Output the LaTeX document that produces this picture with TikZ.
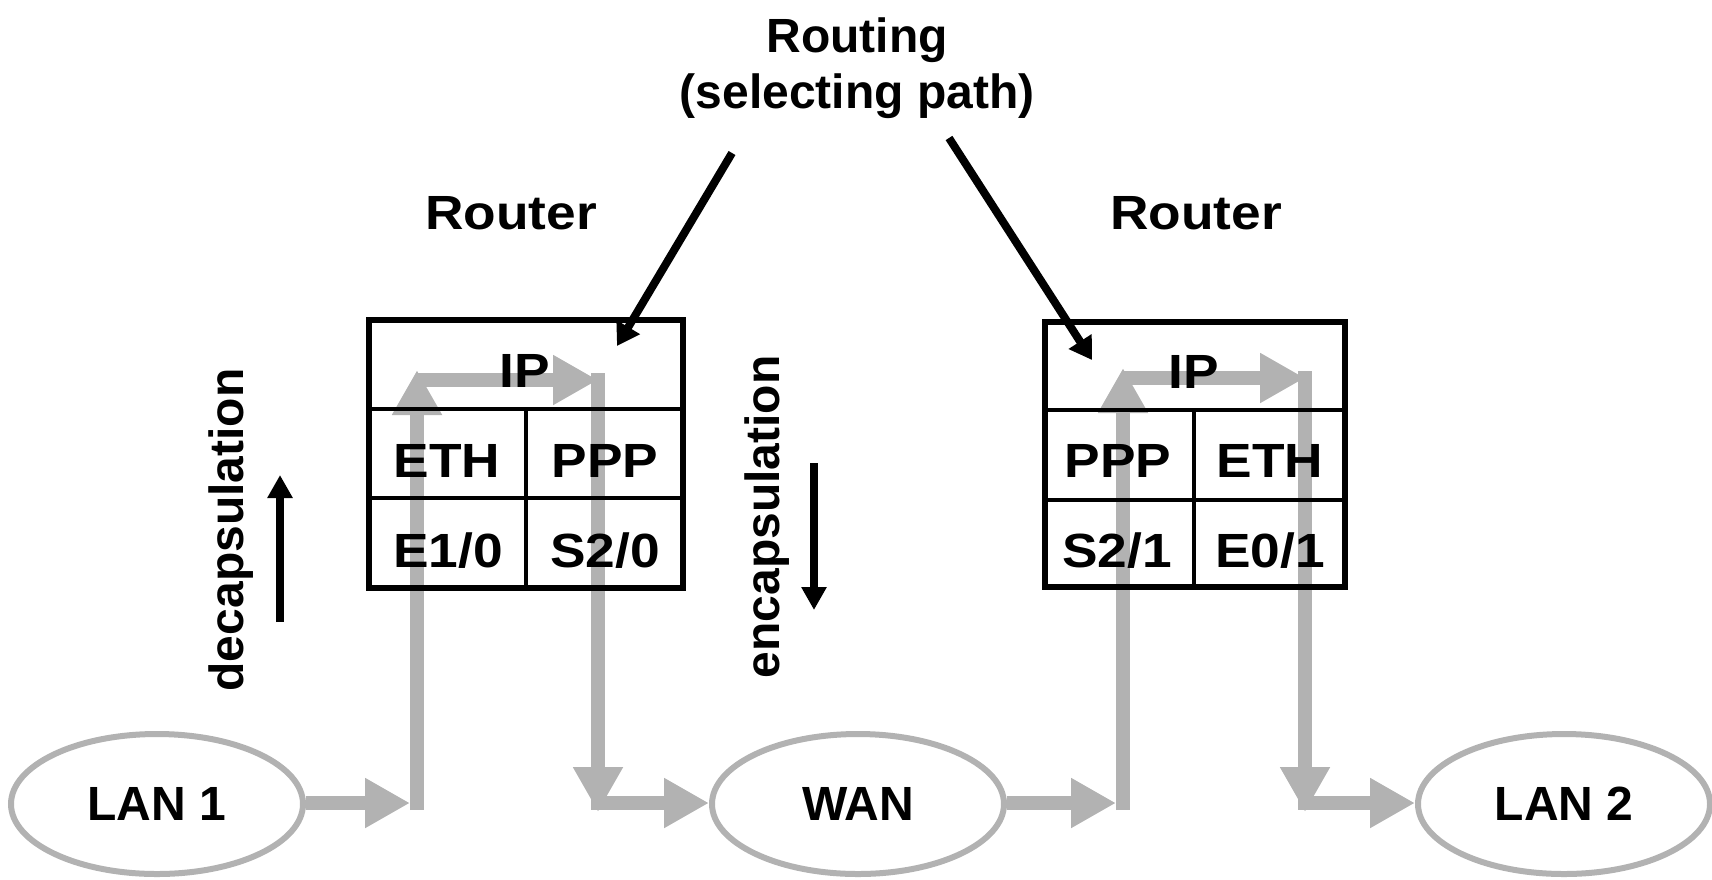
\documentclass[tikz,border=0pt]{standalone}
\usepackage{fontspec}
\setmainfont{Liberation Sans}
\usetikzlibrary{arrows.meta,shapes.geometric,backgrounds}
\definecolor{lgray}{RGB}{178,178,178}
\newcommand{\widetxt}[1]{\scalebox{1.11}[1]{#1}}
\begin{document}
\begin{tikzpicture}[x=0.5pt,y=-0.5pt,
  lbl/.style={font=\fontsize{24}{22.5}\selectfont\bfseries, inner sep=0pt},
  net/.style={ellipse, draw=lgray, line width=3pt, minimum width=146pt, minimum height=70pt, inner sep=0pt, font=\fontsize{24}{22.5}\selectfont\bfseries},
  pipe/.style={draw=lgray, line width=7.25pt, -{Triangle[length=22.5pt,width=23.5pt]}},
  rbox/.style={draw, line width=3pt, inner sep=0pt},
  cell/.style={line width=1.6pt},
  pointer/.style={draw, line width=4pt, -{Triangle[length=11pt,width=13pt]}},
  dirarrow/.style={draw, line width=3.75pt, -{Triangle[length=11.5pt,width=12pt]}}]
\useasboundingbox (0,0) rectangle (1712,879);

% networks
\node[net] (lan1) at (157,804) {LAN 1};
\node[net] (wan) at (858,804) {WAN};
\node[net] (lan2) at (1564,804) {LAN 2};

% router 1
\node[rbox, minimum width=157pt, minimum height=134pt] (r1) at (526,454) {};
\draw[cell] (369,409) -- (683,409);
\draw[cell] (369,498) -- (683,498);
\draw[cell] (526,409) -- (526,587);
\node[lbl, anchor=base] (ip1) at (525,387) {\widetxt{IP}};
\node[lbl, anchor=base] (eth1) at (447,477) {\widetxt{ETH}};
\node[lbl, anchor=base] (ppp1) at (605,477) {\widetxt{PPP}};
\node[lbl, anchor=base] (e10) at (448,567) {\widetxt{E1/0}};
\node[lbl, anchor=base] (s20) at (605,567) {\widetxt{S2/0}};

% router 2
\node[rbox, minimum width=150pt, minimum height=132.5pt] (r2) at (1195,454.5) {};
\draw[cell] (1045,410) -- (1345,410);
\draw[cell] (1045,500) -- (1345,500);
\draw[cell] (1194,410) -- (1194,587);
\node[lbl, anchor=base] (ip2) at (1194,388) {\widetxt{IP}};
\node[lbl, anchor=base] (ppp2) at (1118,477) {\widetxt{PPP}};
\node[lbl, anchor=base] (eth2) at (1270,477) {\widetxt{ETH}};
\node[lbl, anchor=base] (s21) at (1117,567) {\widetxt{S2/1}};
\node[lbl, anchor=base] (e01) at (1270,567) {\widetxt{E0/1}};

% labels
\node[lbl, anchor=base] (rt1) at (511,229) {\widetxt{Router}};
\node[lbl, anchor=base] (rt2) at (1196,229) {\widetxt{Router}};
\node[lbl, font=\fontsize{24}{28}\selectfont\bfseries, anchor=base, align=center] (routing) at (857,108) {Routing\\(selecting path)};
\node[lbl, rotate=90] (decap) at (231.5,530) {decapsulation};
\node[lbl, rotate=90] (encap) at (767,517) {encapsulation};

% black arrows
\coordinate (d1) at (280,622);
\coordinate (d2) at (280,475);
\coordinate (en1) at (814,463);
\coordinate (en2) at (814,610);
\draw[dirarrow] (d1) -- (d2);
\draw[dirarrow] (en1) -- (en2);
\coordinate (p1s) at (732,153);
\coordinate (p1e) at (617,346);
\coordinate (p2s) at (949,138);
\coordinate (p2e) at (1092,360);
\draw[pointer] (p1s) -- (p1e);
\draw[pointer] (p2s) -- (p2e);

% gray flow
\coordinate (a1) at (410,803);
\coordinate (a2b) at (417,810);
\coordinate (a2t) at (417,370);
\coordinate (a3s) at (417,380);
\coordinate (a3e) at (598,380);
\coordinate (a4s) at (598,373);
\coordinate (a4e) at (598,812);
\coordinate (a5s) at (591,803);
\coordinate (b1) at (1116,803);
\coordinate (b2b) at (1123,810);
\coordinate (b2t) at (1123,368);
\coordinate (b3s) at (1123,378);
\coordinate (b3e) at (1305,378);
\coordinate (b4s) at (1305,371);
\coordinate (b4e) at (1305,812);
\coordinate (b5s) at (1298,803);
\begin{scope}[on background layer]
\draw[pipe] (lan1.east |- a1) -- (a1);
\draw[pipe] (a2b) -- (a2t);
\draw[pipe] (a3s) -- (a3e);
\draw[pipe] (a4s) -- (a4e);
\draw[pipe] (a5s) -- (wan.west |- a5s);
\draw[pipe] (wan.east |- b1) -- (b1);
\draw[pipe] (b2b) -- (b2t);
\draw[pipe] (b3s) -- (b3e);
\draw[pipe] (b4s) -- (b4e);
\draw[pipe] (b5s) -- (lan2.west |- b5s);
\end{scope}
\end{tikzpicture}
\end{document}
